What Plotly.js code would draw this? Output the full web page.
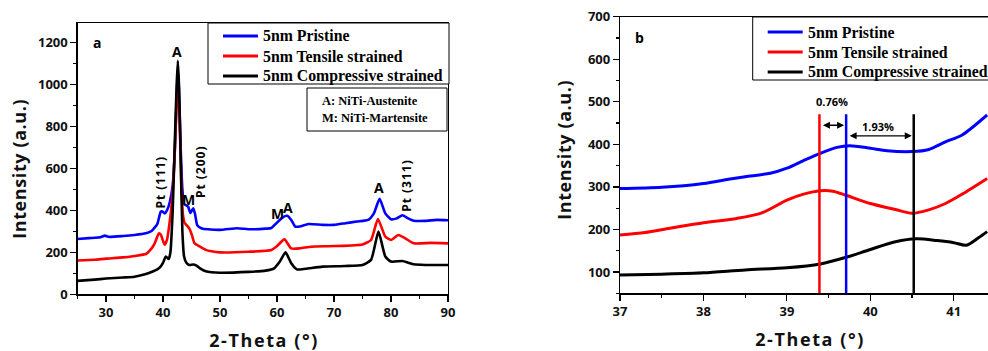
<!DOCTYPE html>
<html>
<head>
<meta charset="utf-8">
<script src="https://cdn.plot.ly/plotly-3.0.1.min.js"></script>
<style>html,body{margin:0;padding:0;background:#fff;}#chart{width:988px;height:351px;}</style>
</head>
<body>
<div id="chart"></div>
<script>
// ---------- Panel a: full XRD patterns ----------
const seriesNames = ["5nm Pristine", "5nm Tensile strained", "5nm Compressive strained"];
const seriesColors = ["#0000ff", "#ff0000", "#000000"];

const pristineX = [25,27,29,29.8,30.5,33,35,37,38,39,39.3,39.6,39.9,40.3,40.7,41.2,41.7,42.1,42.4,42.6,42.8,43.1,43.4,43.7,44.0,44.4,44.8,45.3,45.6,46.0,46.5,47,50,53,55,58,59,60,61,61.8,62.5,63.2,64,65.5,68,70,72,74,76,77,78,79,80,81,82,83,84,86,88,90];
const pristineY = [264,268,272,280,274,278,283,291,302,335,365,394,395,386,400,440,520,700,950,1065,980,700,500,430,425,418,388,410,385,330,318,313,307,315,310,313,316,342,367,374,354,323,323,335,331,331,339,347,355,386,455,386,358,362,377,362,351,350,355,353];

const tensileX = [25,28,30,33,35,37,38,38.5,39.0,39.3,39.6,40.0,40.3,40.7,41.1,41.6,42.0,42.3,42.6,42.9,43.2,43.5,43.8,44.3,44.7,45.1,45.5,46.0,46.5,47.5,48.5,50,55,59,60,61.3,62.5,64,66,70,75,76.5,77.7,79,80,81.3,82.5,84,87,90];
const tensileY = [161,165,170,176,183,192,219,240,275,291,285,255,237,260,330,450,640,850,1010,850,550,380,340,325,310,280,245,235,227,212,205,200,203,211,230,262,219,219,227,230,238,259,359,275,259,283,267,243,245,243];

const compressX = [25,28,30,33,35,37,39,39.5,40.0,40.5,41.0,41.3,41.7,42.1,42.4,42.6,42.8,43.1,43.4,43.7,44.1,44.6,45.3,45.8,46.5,47.5,48.5,50,55,58,59.5,60.5,61.5,62.5,63.5,65,68,72,75,76.5,77.8,79,80,82,83,84,86,90];
const compressY = [64,70,75,80,84,97,119,130,150,180,168,200,400,750,1000,1113,1000,650,300,180,150,140,142,138,124,110,105,103,107,113,124,156,200,148,119,122,132,135,140,164,299,180,156,159,151,143,140,140];

// ---------- Panel b: zoom 37-41.4 ----------
const zPristineX = [37,37.5,38,38.3,38.5,38.8,39,39.2,39.4,39.6,39.75,40,40.2,40.5,40.7,40.9,41.1,41.4];
const zPristineY = [296,299,308,318,324,332,344,362,379,393,397,391,385,383,388,406,422,469];
const zTensileX = [37,37.3,37.6,38,38.4,38.7,39,39.2,39.4,39.55,39.7,40,40.3,40.5,40.7,40.9,41.1,41.4];
const zTensileY = [187,193,203,216,226,239,269,283,291,290,281,261,247,238,246,261,283,320];
const zCompressX = [37,37.5,38,38.5,39,39.4,39.7,40,40.3,40.55,40.8,41,41.15,41.3,41.4];
const zCompressY = [93,95,98,105,110,119,134,153,171,178,174,169,163,181,195];

// Pt(111) peak positions marked in panel b (tensile, pristine, compressive)
const peakPos = [39.39, 39.71, 40.52];
const peakLineTop = 471;
const shiftLabels = ["0.76%", "1.93%"];
const shiftArrowY = [445, 420];

// Peak labels in panel a
const peakLabelText = ["A", "M", "M", "A", "A"];
const peakLabelX = [42.45, 44.4, 60.1, 61.9, 77.85];
const peakLabelY = [1160, 450, 383, 416, 507];
const ptLabelText = ["Pt (111)", "Pt (200)", "Pt (311)"];
const ptLabelX = [39.6, 46.5, 82.6];
const ptLabelY = [536, 583, 521];
const phaseKey = ["A: NiTi-Austenite", "M: NiTi-Martensite"];

const W = 988, H = 351;
const px = v => v / W;
const py = v => 1 - v / H;

const traces = [];
const aX = [pristineX, tensileX, compressX], aY = [pristineY, tensileY, compressY];
for (let i = 0; i < 3; i++) {
  traces.push({x: aX[i], y: aY[i], type: 'scatter', mode: 'lines', name: seriesNames[i], showlegend: false,
    line: {color: seriesColors[i], width: 2.6, shape: 'spline', smoothing: 0.5},
    xaxis: 'x', yaxis: 'y', hoverinfo: 'skip'});
}
const bX = [zPristineX, zTensileX, zCompressX], bY = [zPristineY, zTensileY, zCompressY];
for (let i = 0; i < 3; i++) {
  traces.push({x: bX[i], y: bY[i], type: 'scatter', mode: 'lines', name: seriesNames[i], showlegend: false,
    line: {color: seriesColors[i], width: 3, shape: 'spline', smoothing: 0.8},
    xaxis: 'x2', yaxis: 'y2', hoverinfo: 'skip'});
}
const vColors = [seriesColors[1], seriesColors[0], seriesColors[2]];
for (let i = 0; i < 3; i++) {
  traces.push({x: [peakPos[i], peakPos[i]], y: [50, peakLineTop], type: 'scatter', mode: 'lines',
    line: {color: vColors[i], width: 2.5}, showlegend: false, xaxis: 'x2', yaxis: 'y2', hoverinfo: 'skip'});
}

const tickFont = {family: 'Open Sans', size: 13, color: '#111', weight: 'bold'};
const axisCommon = {showline: true, linecolor: '#000', linewidth: 1.2, mirror: true, ticks: 'outside',
  ticklen: 6, tickwidth: 1.2, tickcolor: '#000', showgrid: false, zeroline: false, tickfont: tickFont};

const annotations = [];
const shapes = [];
const sansB = (s) => ({family: 'Open Sans', size: s, color: '#000', weight: 'bold'});
const serifB = (s) => ({family: 'Liberation Serif', size: s, color: '#000', weight: 'bold'});
const ann = (o) => annotations.push(Object.assign({showarrow: false, xanchor: 'center', yanchor: 'middle'}, o));

ann({xref: 'x', yref: 'y', x: 28.4, y: 1203, text: 'a', font: sansB(14)});
for (let i = 0; i < peakLabelText.length; i++) {
  ann({xref: 'x', yref: 'y', x: peakLabelX[i], y: peakLabelY[i], text: peakLabelText[i], font: sansB(14)});
}
for (let i = 0; i < ptLabelText.length; i++) {
  ann({xref: 'x', yref: 'y', x: ptLabelX[i], y: ptLabelY[i], text: ptLabelText[i], textangle: -90, font: sansB(12)});
}
// phase key box
shapes.push({type: 'rect', xref: 'paper', yref: 'paper', x0: px(307), x1: px(447), y0: py(131), y1: py(88),
  line: {color: '#000', width: 1}, fillcolor: '#fff', layer: 'above'});
ann({xref: 'paper', yref: 'paper', x: px(320), y: py(101), xanchor: 'left', text: phaseKey[0], font: serifB(12.5)});
ann({xref: 'paper', yref: 'paper', x: px(320), y: py(118), xanchor: 'left', text: phaseKey[1], font: serifB(12.5)});

// legends
function legendBox(left, top, right, bottom, lineX0, lineX1, textX, rows) {
  shapes.push({type: 'rect', xref: 'paper', yref: 'paper', x0: px(left), x1: px(right), y0: py(bottom), y1: py(top),
    line: {color: '#000', width: 1}, fillcolor: '#fff', layer: 'above'});
  for (let i = 0; i < 3; i++) {
    shapes.push({type: 'line', xref: 'paper', yref: 'paper', x0: px(lineX0), x1: px(lineX1), y0: py(rows[i]), y1: py(rows[i]),
      line: {color: seriesColors[i], width: 3}, layer: 'above'});
    ann({xref: 'paper', yref: 'paper', x: px(textX), y: py(rows[i]), xanchor: 'left', text: seriesNames[i], font: serifB(15.8)});
  }
}
legendBox(208, 23, 449, 84, 223, 258, 261, [36, 56, 76]);
legendBox(752.7, 17, 1010, 80, 767.7, 802.7, 806, [32, 52, 72]);

// panel b labels
ann({xref: 'x2', yref: 'y2', x: 37.23, y: 650, text: 'b', font: sansB(14)});
ann({xref: 'x2', yref: 'y2', x: 39.54, y: 500, text: shiftLabels[0], font: sansB(11)});
ann({xref: 'x2', yref: 'y2', x: 40.09, y: 441, text: shiftLabels[1], font: sansB(11)});
annotations.push({xref: 'x2', yref: 'y2', axref: 'x2', ayref: 'y2', x: peakPos[1], y: shiftArrowY[0], ax: peakPos[0], ay: shiftArrowY[0],
  text: '', showarrow: true, arrowside: 'end+start', arrowhead: 2, arrowsize: 1, arrowwidth: 1.4, arrowcolor: '#000', standoff: 2, startstandoff: 2});
annotations.push({xref: 'x2', yref: 'y2', axref: 'x2', ayref: 'y2', x: peakPos[2], y: shiftArrowY[1], ax: peakPos[1], ay: shiftArrowY[1],
  text: '', showarrow: true, arrowside: 'end+start', arrowhead: 2, arrowsize: 1, arrowwidth: 1.4, arrowcolor: '#000', standoff: 2, startstandoff: 2});

// axis titles
const titleFont = {family: 'Open Sans', size: 18, color: '#111', weight: 'bold'};
ann({xref: 'paper', yref: 'paper', x: px(264), y: py(340), text: '2-Theta (°)', font: titleFont});
ann({xref: 'paper', yref: 'paper', x: px(810), y: py(339), text: '2-Theta (°)', font: titleFont});
ann({xref: 'paper', yref: 'paper', x: px(19), y: py(169), text: 'Intensity (a.u.)', textangle: -90, font: titleFont});
ann({xref: 'paper', yref: 'paper', x: px(564), y: py(150), text: 'Intensity (a.u.)', textangle: -90, font: titleFont});

const layout = {
  width: W, height: H, margin: {l: 0, r: 0, t: 0, b: 0}, paper_bgcolor: '#fff', plot_bgcolor: '#fff',
  showlegend: false,
  xaxis: Object.assign({}, axisCommon, {domain: [px(77.5), px(448)], range: [25, 90], tick0: 0, dtick: 10,
    minor: {dtick: 5, ticks: 'outside', ticklen: 3, tickcolor: '#000'}, anchor: 'y'}),
  yaxis: Object.assign({}, axisCommon, {domain: [py(294.3), py(22.7)], range: [0, 1295], tick0: 0, dtick: 200,
    minor: {dtick: 100, ticks: 'outside', ticklen: 3, tickcolor: '#000'}, anchor: 'x'}),
  xaxis2: Object.assign({}, axisCommon, {domain: [px(620), 1], range: [37, 41.41], tick0: 37, dtick: 1,
    minor: {dtick: 0.5, ticks: 'outside', ticklen: 3, tickcolor: '#000'}, anchor: 'y2'}),
  yaxis2: Object.assign({}, axisCommon, {domain: [py(293.3), py(16.7)], range: [50, 700], tick0: 0, dtick: 100,
    minor: {dtick: 50, ticks: 'outside', ticklen: 3, tickcolor: '#000'}, anchor: 'x2'}),
  shapes: shapes,
  annotations: annotations
};

Plotly.newPlot('chart', traces, layout, {staticPlot: true, displayModeBar: false}).then(gd => {
  // widen letter spacing of the axis titles and Pt labels, as in the original figure
  const spaced = {'2-Theta (°)': '1.6px', 'Intensity (a.u.)': '0.6px', 'Pt (111)': '1px', 'Pt (200)': '1px', 'Pt (311)': '1px'};
  gd.querySelectorAll('.annotation-text').forEach(t => {
    const s = spaced[t.textContent];
    if (s) { t.style.letterSpacing = s; }
  });
});
</script>
</body>
</html>
